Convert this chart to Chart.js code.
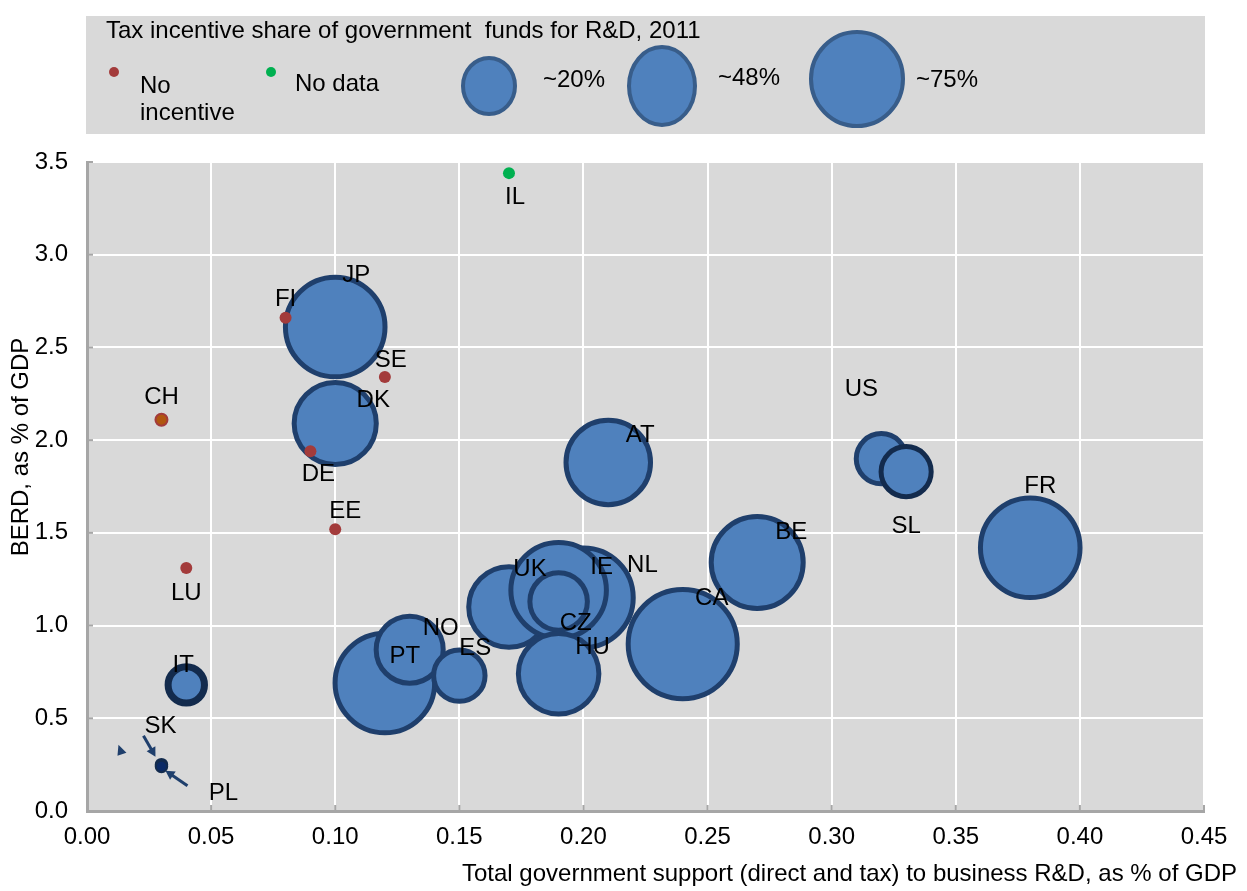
<!DOCTYPE html>
<html><head><meta charset="utf-8">
<script src="https://cdn.jsdelivr.net/npm/chart.js@4.4.1/dist/chart.umd.min.js"></script>
<style>html,body{margin:0;padding:0;background:#fff}#wrap{width:1247px;height:891px}</style>
</head><body><div id="wrap"><canvas id="c" width="1247" height="891"></canvas></div>
<script>
// ---------- data ----------
const bubbleCountries = ['JP','DK','AT','BE','CA','FR','US','SL','UK','NL','IE','CZ','HU','PT','NO','ES','IT','SK','PL'];
const bubbleSupport   = [0.10,0.10,0.21,0.27,0.24,0.38,0.32,0.33,0.17,0.20,0.19,0.19,0.19,0.12,0.13,0.15,0.04,0.03,0.03];
const bubbleBERD      = [2.61,2.09,1.88,1.34,0.90,1.42,1.90,1.83,1.10,1.15,1.19,1.13,0.74,0.69,0.87,0.73,0.68,0.25,0.24];
const bubbleTaxShare  = [75,51,54,64,90,75,19,19,49,75,69,25,49,75,34,20,10,1,1];
const noIncCountries  = ['FI','SE','CH','DE','EE','LU'];
const noIncSupport    = [0.08,0.12,0.03,0.09,0.10,0.04];
const noIncBERD       = [2.66,2.34,2.11,1.94,1.52,1.31];
const noDataCountries = ['IL'];
const noDataSupport   = [0.17];
const noDataBERD      = [3.44];
const legendShares    = ['~20%','~48%','~75%'];
const legendTitle     = 'Tax incentive share of government  funds for R&D, 2011';
const xTitle = 'Total government support (direct and tax) to business R&D, as % of GDP';
const yTitle = 'BERD, as % of GDP';

// ---------- styling ----------
const FONT = '"Liberation Sans", Arial, Helvetica, sans-serif';
const FS = 24;
const BLUE = '#4f81bd', BORDER = '#1f3f6c', DARK = '#132b4d';
const RED = '#a33b3b', GREEN = '#00b050';
const labelOffsets = {
  IL:[6,24], JP:[21,-52], FI:[0,-18], SE:[6,-17], DK:[38,-23], CH:[0,-22], DE:[8,23], EE:[10,-18], LU:[0,25],
  AT:[32,-27], US:[-20,-69], SL:[0,55], FR:[10,-61], BE:[34,-30], NL:[59,-32], IE:[43,-23], UK:[21,-38],
  CA:[29,-46], CZ:[17,22], HU:[34,-26], NO:[31,-21], ES:[16,-27], PT:[20,-27], IT:[-3,-20], SK:[-1,-38], PL:[62,27]
};
const radiusOf = s => 5.75 * Math.sqrt(s);

const bubbleData = bubbleCountries.map((c,i)=>({x:bubbleSupport[i], y:bubbleBERD[i], r: radiusOf(bubbleTaxShare[i]), c}));
const noIncData  = noIncCountries.map((c,i)=>({x:noIncSupport[i], y:noIncBERD[i], r:6, c}));
const noDataData = noDataCountries.map((c,i)=>({x:noDataSupport[i], y:noDataBERD[i], r:6, c}));

function arrow(ctx, x1, y1, x2, y2){
  const a = Math.atan2(y2-y1, x2-x1), h = 9;
  ctx.beginPath(); ctx.moveTo(x1,y1); ctx.lineTo(x2 - Math.cos(a)*5, y2 - Math.sin(a)*5); ctx.stroke();
  ctx.beginPath(); ctx.moveTo(x2,y2);
  ctx.lineTo(x2 - h*Math.cos(a) + 5*Math.sin(a), y2 - h*Math.sin(a) - 5*Math.cos(a));
  ctx.lineTo(x2 - h*Math.cos(a) - 5*Math.sin(a), y2 - h*Math.sin(a) + 5*Math.cos(a));
  ctx.closePath(); ctx.fill();
}

const deco = {
  id:'deco',
  beforeDraw(chart){
    const {ctx, chartArea:a} = chart;
    ctx.save();
    ctx.fillStyle = '#fff'; ctx.fillRect(0,0,chart.width,chart.height);
    ctx.fillStyle = '#d9d9d9'; ctx.fillRect(a.left, a.top, a.right-a.left, a.bottom-a.top);
    // legend box
    ctx.fillRect(86, 16, 1119, 118);
    ctx.fillStyle = '#000'; ctx.font = `${FS}px ${FONT}`; ctx.textBaseline = 'middle'; ctx.textAlign = 'left';
    ctx.fillText(legendTitle, 106, 31);
    ctx.fillStyle = RED; ctx.beginPath(); ctx.arc(114, 72, 5, 0, Math.PI*2); ctx.fill();
    ctx.fillStyle = GREEN; ctx.beginPath(); ctx.arc(271, 72, 5, 0, Math.PI*2); ctx.fill();
    ctx.fillStyle = '#000';
    ctx.fillText('No', 140, 86); ctx.fillText('incentive', 140, 113); ctx.fillText('No data', 295, 84);
    const ells = [[489,86,26,28],[662,86,33,39],[857,79,46,47]];
    const txt = [[543,80],[718,78],[916,80]];
    ells.forEach((e,i)=>{
      ctx.beginPath(); ctx.ellipse(e[0],e[1],e[2],e[3],0,0,Math.PI*2);
      ctx.fillStyle = BLUE; ctx.fill(); ctx.lineWidth = 4; ctx.strokeStyle = '#385d8a'; ctx.stroke();
      ctx.fillStyle = '#000'; ctx.fillText(legendShares[i], txt[i][0], txt[i][1]);
    });
    ctx.restore();
  },
  afterDraw(chart){
    const {ctx, chartArea:a, scales:{x, y}} = chart;
    ctx.save();
    // inner tick marks
    ctx.strokeStyle = '#a6a6a6'; ctx.lineWidth = 2;
    x.ticks.forEach(t=>{ const px = x.getPixelForValue(t.value); ctx.beginPath(); ctx.moveTo(px, a.bottom); ctx.lineTo(px, a.bottom-6); ctx.stroke(); });
    y.ticks.forEach(t=>{ const py = y.getPixelForValue(t.value); ctx.beginPath(); ctx.moveTo(a.left, py); ctx.lineTo(a.left+6, py); ctx.stroke(); });
    // axis titles
    ctx.fillStyle = '#000'; ctx.font = `${FS}px ${FONT}`; ctx.textBaseline = 'middle';
    ctx.textAlign = 'right'; ctx.fillText(xTitle, 1237, 874);
    ctx.save(); ctx.translate(21, 447); ctx.rotate(-Math.PI/2); ctx.textAlign = 'center'; ctx.fillText(yTitle, 0, 0); ctx.restore();
    // labels
    ctx.textAlign = 'center';
    chart.data.datasets.forEach((ds, di)=>{
      const meta = chart.getDatasetMeta(di);
      ds.data.forEach((d, i)=>{
        const el = meta.data[i]; const o = labelOffsets[d.c] || [0,0];
        ctx.fillText(d.c, el.x + o[0], el.y + o[1]);
      });
    });
    // arrows for SK / PL
    const bm = chart.getDatasetMeta(2);
    const sk = bm.data[bubbleCountries.indexOf('SK')];
    ctx.strokeStyle = '#1f3f6c'; ctx.fillStyle = '#1f3f6c'; ctx.lineWidth = 3;
    arrow(ctx, sk.x-18, sk.y-29, sk.x-6, sk.y-8);
    arrow(ctx, sk.x+26, sk.y+21, sk.x+4, sk.y+6);
    ctx.beginPath(); ctx.moveTo(sk.x-44, sk.y-9); ctx.lineTo(sk.x-43, sk.y-20); ctx.lineTo(sk.x-35, sk.y-12); ctx.closePath(); ctx.fill();
    ctx.restore();
  }
};

const tickFont = {family: FONT, size: FS};
new Chart(document.getElementById('c'), {
  type: 'bubble',
  data: { datasets: [
    { label:'No data', data: noDataData, backgroundColor: GREEN, borderWidth: 0 },
    { label:'No incentive', data: noIncData,
      backgroundColor: noIncCountries.map(c => c==='CH' ? '#b0560f' : RED),
      borderColor: RED, borderWidth: noIncCountries.map(c => c==='CH' ? 2 : 0) },
    { label:'Tax incentive share', data: bubbleData,
      backgroundColor: bubbleCountries.map(c => (c==='SK'||c==='PL') ? '#0b2a66' : BLUE),
      borderColor: bubbleCountries.map(c => (c==='IT'||c==='SL'||c==='SK'||c==='PL') ? DARK : BORDER),
      borderWidth: bubbleCountries.map(c => c==='IT' ? 7 : (c==='SK'||c==='PL') ? 2 : 5) }
  ]},
  options: {
    responsive:false, animation:false, devicePixelRatio:1,
    layout:{ autoPadding:false, padding:{ top:162, right:43, left:0, bottom:0 } },
    plugins:{ legend:{display:false}, tooltip:{enabled:false} },
    scales:{
      x:{ type:'linear', min:0, max:0.45, afterFit(s){ s.height = 80; s.paddingRight = 0; s.paddingLeft = 0; },
          ticks:{ stepSize:0.05, callback:v=>Number(v).toFixed(2), font:tickFont, color:'#000', padding:12, maxRotation:0 },
          grid:{ color:'#fff', lineWidth:2, drawTicks:false }, border:{ color:'#a6a6a6', width:3 } },
      y:{ type:'linear', min:0, max:3.5, afterFit(s){ s.width = 87; },
          ticks:{ stepSize:0.5, callback:v=>Number(v).toFixed(1), font:tickFont, color:'#000', padding:19 },
          grid:{ color:'#fff', lineWidth:2, drawTicks:false }, border:{ color:'#a6a6a6', width:3 } }
    }
  },
  plugins:[deco]
});
</script></body></html>
